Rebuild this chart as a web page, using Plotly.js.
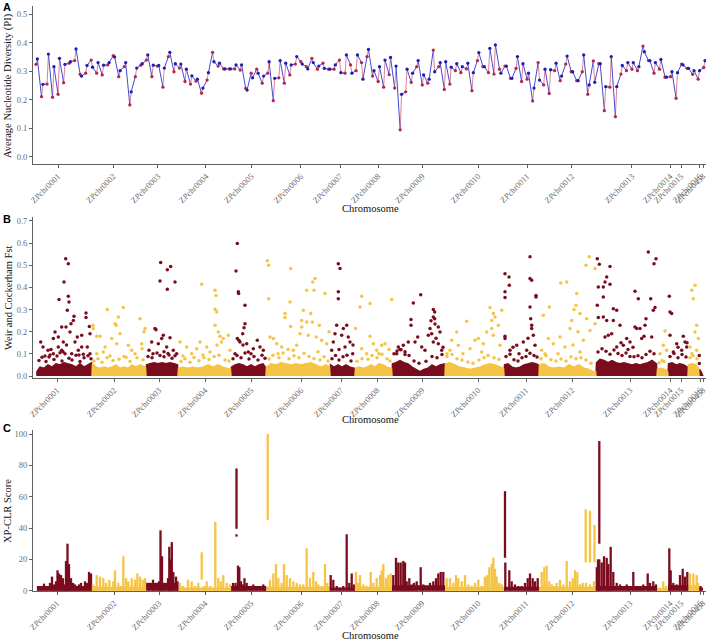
<!DOCTYPE html>
<html><head><meta charset="utf-8">
<script src="https://cdn.plot.ly/plotly-3.0.1.min.js"></script>
<style>html,body{margin:0;padding:0;background:#fff}#chart{width:709px;height:641px}</style>
</head><body><div id="chart"></div>
<script>
// ---------------- chromosomes ----------------
const chrNames = ["ZPchr0001","ZPchr0002","ZPchr0003","ZPchr0004","ZPchr0005","ZPchr0006","ZPchr0007","ZPchr0008","ZPchr0009","ZPchr0010","ZPchr0011","ZPchr0012","ZPchr0013","ZPchr0014","ZPchr0015","ZPchr0016","ZPchr0458"];
const chrStart = [4,59,113,145,198,233,297,322,359,412,471,506,563,624,635,655,666];
const chrEnd   = [59,113,145,198,233,297,322,359,412,471,506,563,624,635,655,666,670];
const chrTick  = [24,81,126,172,218,268,308,344,389,445,493,539,597,637,648,667,670];

// ---------------- panel A: nucleotide diversity windows ----------------
const piTick = [4.0,14.0,22.1,30.8,39.0,48.0,55.1,62.0,70.0,80.1,89.0,97.1,108.0,114.9,116.9,120.3,120.9];
const piRed = [0.324,0.211,0.255,0.209,0.219,0.260,0.328,0.337,0.289,0.293,
0.339,0.293,0.287,0.322,0.354,0.281,0.316,0.182,0.281,0.321,
0.339,0.281,0.318,0.244,0.351,0.298,0.311,0.264,0.255,0.265,
0.223,0.269,0.366,0.318,0.308,0.308,0.308,0.304,0.240,0.293,
0.307,0.258,0.293,0.197,0.277,0.258,0.287,0.325,0.333,0.316,
0.345,0.307,0.328,0.307,0.307,0.339,0.293,0.322,0.302,0.330,
0.351,0.283,0.264,0.244,0.288,0.241,0.095,0.228,0.261,0.316,
0.252,0.258,0.374,0.316,0.236,0.255,0.302,0.295,0.308,0.232,
0.337,0.316,0.295,0.290,0.307,0.318,0.275,0.310,0.264,0.272,
0.196,0.330,0.252,0.222,0.302,0.267,0.325,0.298,0.267,0.298,
0.219,0.336,0.326,0.162,0.244,0.141,0.290,0.302,0.307,0.302,
0.388,0.337,0.293,0.307,0.279,0.281,0.205,0.325,0.310,0.289,
0.272,0.313];
const piBlue = [0.343,0.254,0.360,0.316,0.345,0.324,0.333,0.378,0.283,0.320,
0.314,0.330,0.321,0.330,0.350,0.302,0.330,0.228,0.311,0.326,
0.357,0.321,0.320,0.311,0.366,0.326,0.325,0.307,0.284,0.272,
0.241,0.295,0.333,0.328,0.308,0.308,0.322,0.322,0.234,0.277,
0.293,0.283,0.333,0.275,0.337,0.328,0.322,0.351,0.325,0.308,
0.330,0.318,0.310,0.307,0.322,0.295,0.357,0.293,0.357,0.272,
0.376,0.302,0.316,0.339,0.348,0.318,0.219,0.307,0.293,0.337,
0.287,0.272,0.298,0.330,0.333,0.314,0.326,0.316,0.328,0.295,
0.365,0.316,0.380,0.392,0.293,0.318,0.275,0.351,0.326,0.293,
0.241,0.269,0.307,0.305,0.328,0.283,0.353,0.298,0.267,0.357,
0.252,0.261,0.326,0.246,0.351,0.246,0.320,0.330,0.330,0.316,
0.368,0.337,0.330,0.341,0.279,0.298,0.295,0.322,0.310,0.302,
0.302,0.337];

// ---------------- panel B: Fst ----------------
const fstPos = [
7.7,10,15,16,22,20.3,25.3,26,28.7,30.3,31,32.7,35.3,35.3,36,34.3,33,37,38,41,40.3,42,44.3,48.7,48.7,53,53,56.3,57,54.3,25.3,28.7,45.3,38.7,20.3,50.3,57,12,18,30,33.5,46,
6,9,13,17,21,24,27,29,32,36,39,43,47,51,55,58,
74.3,90.3,85.3,82,83,60.3,60,63.7,67,83.7,107,108.7,109,87,78.7,72,95.3,98.7,70.3,63.7,102,111,112,77,93,
61,65,69,74,80,86,91,97,104,110,
127.7,137.7,134.3,127,134.3,142,122,123,130.3,128.7,137,118.7,125.3,133.7,140.3,116,143.7,120,131,136,
115,119,124,127,131,135,139,142,
168.7,182,183,182,183.7,182,185.3,187,190.3,188.5,195.3,147,153.7,163.7,167,173.7,158.7,177,197,184,150,170,
148,152,157,161,166,171,176,181,186,192,196,
204.3,203,205.3,205.6,212,212,211,209.7,204.3,207,213.7,224.3,220.3,230.3,202,215.3,227,206,210,218,
200,204,208,212,216,221,225,229,232,
234.3,235.7,235.7,237,240.3,257.7,257,252,252,257.7,268.7,268.7,270.3,273.7,279.7,282,277.7,279.3,273.7,281,283.3,286.3,292,288.7,243.7,248.7,263.7,267,275.3,260.3,293.7,296,245,255,285,
236,240,246,250,256,261,266,271,276,281,287,291,295,
305.3,307,305.3,305.3,303.7,313.7,310.3,302,308.7,300.3,315.3,317,312,319.7,298.7,306,320,
299,302.5,306,310,314,318,
328.7,327,337,358.7,322.5,337,340.3,348.7,352,328.7,343.7,333.7,356,346,
324,329,335,339,344,349,354,357,
387.7,380.3,378,378,400.3,401.7,400.3,401.7,397,405.3,407,398.7,395.3,400.3,384.7,375.3,388.7,365.3,370.3,382,405.3,408.7,392,363.7,367,372,410,403,398,402,
361,364,368,372,376,381,386,393,399,404,409,
457,460.3,462,458.7,468.7,433.7,423.7,418.7,442,445.3,453.7,458.7,460.3,465.3,450.3,425.3,417,437,448.7,467,414,430,
414,419,424,429,435,440,446,451,455,461,466,
497,472,476,476.3,472,472,497,498.7,497,503,503,497.7,498.7,498.7,500.3,472,472,490.3,483.7,493.7,477,502,486,495,480,
473,477,481,485,489,493,497,501,504,
556.3,553,527.7,533.7,543.7,543,541,510.3,516.3,547,538.7,553.7,562,557,562,527,515.3,537,550.3,520.3,532,547,508.7,525,545,540,512,
508,513,518,523,528,533,538,543,548,553,558,
564.3,566.3,577,573.7,572,570.3,565.3,564.3,577,570.3,565.3,580.3,583.7,570.3,573.7,575.3,572,578.7,580.3,587,602,605.3,615.3,621,623,617.7,622,620.3,613,612,602,597,603.7,608.7,618.7,590.3,583.7,593.7,607,611,595,588,600,
565,569,573,577,581,585,589,593,597,601,605,609,613,617,621,
632,630.3,633.7,627,629,626,631,
636.3,637,638.7,637,643.7,650.3,652,653.7,648.7,640.3,645,654,637,641,645,649,653,
658.7,662,660.3,663.7,662,665.3,657,663.7,659,657,660,664,
666.3,666.3];
const fstVal = [
0.154,0.131,0.116,0.086,0.199,0.169,0.176,0.345,0.221,0.154,0.425,0.53,0.507,0.36,0.334,0.297,0.221,0.199,0.236,0.27,0.251,0.154,0.176,0.184,0.131,0.285,0.264,0.224,0.191,0.131,0.131,0.116,0.116,0.1,0.1,0.098,0.1,0.09,0.12,0.11,0.14,0.095,
0.07,0.085,0.065,0.095,0.075,0.09,0.105,0.068,0.1,0.08,0.072,0.094,0.066,0.083,0.092,0.078,
0.3,0.309,0.267,0.236,0.229,0.214,0.229,0.179,0.179,0.146,0.259,0.146,0.123,0.191,0.169,0.131,0.139,0.116,0.108,0.1,0.1,0.2,0.215,0.09,0.085,
0.068,0.078,0.062,0.083,0.07,0.076,0.088,0.066,0.082,0.073,
0.512,0.495,0.48,0.429,0.392,0.425,0.214,0.209,0.184,0.169,0.173,0.154,0.146,0.131,0.116,0.116,0.1,0.1,0.11,0.095,
0.088,0.082,0.104,0.093,0.087,0.102,0.08,0.092,
0.414,0.387,0.364,0.301,0.289,0.229,0.199,0.179,0.169,0.154,0.184,0.154,0.131,0.123,0.154,0.131,0.1,0.108,0.116,0.14,0.09,0.095,
0.066,0.078,0.062,0.084,0.069,0.083,0.074,0.088,0.094,0.072,0.068,
0.598,0.474,0.38,0.372,0.319,0.236,0.218,0.191,0.169,0.154,0.146,0.161,0.123,0.116,0.1,0.108,0.131,0.16,0.14,0.1,
0.078,0.093,0.083,0.104,0.077,0.088,0.072,0.094,0.08,
0.52,0.5,0.349,0.176,0.169,0.485,0.334,0.282,0.264,0.224,0.251,0.221,0.297,0.244,0.425,0.44,0.282,0.244,0.387,0.387,0.176,0.229,0.372,0.161,0.146,0.131,0.139,0.191,0.184,0.116,0.146,0.2,0.1,0.12,0.11,
0.077,0.094,0.082,0.104,0.078,0.092,0.083,0.103,0.088,0.079,0.072,0.087,0.068,
0.507,0.485,0.38,0.349,0.229,0.229,0.214,0.191,0.184,0.154,0.176,0.154,0.131,0.1,0.116,0.12,0.14,
0.078,0.093,0.072,0.087,0.094,0.068,
0.36,0.312,0.327,0.345,0.214,0.179,0.146,0.139,0.146,0.123,0.116,0.1,0.12,0.1,
0.067,0.078,0.076,0.093,0.083,0.098,0.078,0.068,
0.367,0.33,0.255,0.229,0.3,0.289,0.267,0.259,0.214,0.221,0.199,0.191,0.184,0.154,0.176,0.154,0.131,0.131,0.139,0.154,0.146,0.116,0.116,0.1,0.12,0.11,0.13,0.17,0.25,0.235,
0.1,0.113,0.118,0.097,0.093,0.068,0.058,0.067,0.088,0.083,0.097,
0.309,0.282,0.267,0.251,0.297,0.247,0.199,0.161,0.161,0.169,0.199,0.214,0.184,0.229,0.146,0.139,0.116,0.123,0.108,0.139,0.1,0.1,
0.088,0.097,0.078,0.072,0.063,0.058,0.072,0.083,0.093,0.082,0.076,
0.538,0.462,0.447,0.41,0.38,0.354,0.44,0.432,0.312,0.364,0.357,0.259,0.229,0.214,0.184,0.179,0.169,0.154,0.139,0.116,0.116,0.139,0.1,0.17,0.13,
0.088,0.098,0.073,0.068,0.082,0.088,0.103,0.093,0.086,
0.538,0.5,0.42,0.425,0.372,0.319,0.3,0.274,0.312,0.282,0.251,0.259,0.485,0.206,0.236,0.176,0.169,0.214,0.161,0.146,0.131,0.108,0.116,0.1,0.2,0.14,0.1,
0.078,0.092,0.073,0.068,0.077,0.068,0.087,0.078,0.083,0.072,0.058,
0.53,0.505,0.495,0.447,0.425,0.402,0.402,0.319,0.414,0.357,0.264,0.304,0.297,0.267,0.251,0.184,0.176,0.191,0.251,0.229,0.383,0.349,0.56,0.507,0.53,0.349,0.309,0.297,0.259,0.229,0.221,0.154,0.214,0.169,0.176,0.139,0.131,0.169,0.214,0.18,0.12,0.15,0.13,
0.108,0.123,0.112,0.098,0.117,0.102,0.093,0.104,0.088,0.087,0.092,0.083,0.097,0.112,0.1,
0.203,0.139,0.116,0.1,0.07,0.06,0.065,
0.36,0.289,0.282,0.184,0.146,0.179,0.154,0.131,0.116,0.108,0.13,0.15,0.088,0.102,0.083,0.097,0.086,
0.387,0.41,0.349,0.229,0.199,0.169,0.131,0.116,0.1,0.083,0.092,0.078,
0.093,0.056];
// top of the dense low-Fst band of SNPs
const fstBandPos = [4,7,11,15,19,23,27,31,35,39,43,47,51,55,58.5,
59.5,63,67,71,75,79,83,87,91,95,99,103,107,112.5,
113.5,117,121,125,129,133,137,141,144.5,
145.5,150,155,160,165,170,175,180,185,190,195,197.5,
198.5,202,206,210,214,218,222,226,230,232.5,
233.5,238,243,248,253,258,263,268,273,278,283,288,293,296.5,
297.5,301,305,309,313,317,321.5,
322.5,326,330,334,338,342,346,350,354,358.5,
359.5,363,367,371,375,379,383,387,391,395,399,403,407,411.5,
412.5,417,422,427,432,437,442,447,452,457,462,467,470.5,
471.5,475,479,483,487,491,495,499,503,505.5,
506.5,511,516,521,526,531,536,541,546,551,556,560,562.5,
563.5,567,571,575,579,583,587,591,595,599,603,607,611,615,619,623.5,
624.5,628,632,634.5,
635.5,639,643,647,651,654.5,
655.5,659,663,665.5,
666.5,668];
const fstBandTop = [0.02,0.04,0.035,0.05,0.04,0.055,0.05,0.06,0.055,0.05,0.04,0.055,0.04,0.05,0.06,
0.055,0.04,0.035,0.04,0.035,0.04,0.05,0.035,0.04,0.035,0.05,0.04,0.05,0.04,
0.05,0.055,0.06,0.055,0.06,0.055,0.06,0.055,0.05,
0.035,0.04,0.035,0.04,0.035,0.04,0.05,0.04,0.05,0.04,0.035,0.03,
0.04,0.05,0.055,0.05,0.04,0.05,0.04,0.05,0.055,0.04,
0.04,0.055,0.05,0.06,0.055,0.05,0.055,0.05,0.055,0.06,0.05,0.04,0.05,0.04,
0.05,0.04,0.05,0.04,0.05,0.04,0.035,
0.035,0.04,0.035,0.04,0.05,0.04,0.055,0.05,0.04,0.035,
0.055,0.06,0.07,0.06,0.055,0.04,0.03,0.02,0.03,0.035,0.05,0.04,0.05,0.055,
0.055,0.06,0.05,0.04,0.035,0.03,0.035,0.04,0.05,0.055,0.05,0.04,0.035,
0.05,0.055,0.04,0.035,0.04,0.05,0.055,0.06,0.055,0.05,
0.05,0.055,0.04,0.035,0.04,0.035,0.05,0.04,0.05,0.035,0.03,0.02,0.02,
0.06,0.075,0.07,0.06,0.07,0.06,0.055,0.06,0.055,0.05,0.055,0.05,0.055,0.06,0.07,0.055,
0.03,0.035,0.03,0.02,
0.055,0.06,0.05,0.055,0.05,0.04,
0.05,0.055,0.05,0.035,
0.03,0.02];

// ---------------- panel C: XP-CLR ----------------
const xclrPos = [
5,8,11,14,17,19,21,23,24.5,26,28,30,31.5,33,34.5,36,38,40,42,44,46,48,50,52,54,56,58,
60,61.5,63.7,67,70.3,73,76.3,80.3,82,85.3,88,90.3,93,95.3,98.7,102,104.3,107,109.7,112,
116,120,123,126,127.5,129,132,135,136.3,137.5,138.8,140.3,143,144.5,
147,150,155,158.7,162,165.3,168.7,171,173.7,177,180.3,182.3,185.3,187.7,190.3,193.7,197,
200,202.5,203.5,203.5,205,206.3,208,210,211.5,213.7,217,220.3,223.7,227,230.3,232,
234.7,237,240.3,243,245.3,248.7,251,253.7,257,260.3,263.7,267,270.3,273.7,277,280.3,283,285.3,288.7,292,294.3,
297.7,300.3,303.7,307,310.3,313.7,316.3,318.7,321,
323,325,327,330.3,333.7,337.7,340.3,343.7,347,348.7,350.3,353,355.3,357.7,
360.3,363,365.3,367.7,370.3,372,373.7,376.3,378.7,381,383.7,387.7,390.3,393.7,397,400.3,403,405.3,407.7,410.3,
413.7,417,420.3,423,425.3,428.7,432,435.3,438.7,442,445.3,448.7,452,454.3,456.3,458.7,460.3,462,463.7,466.3,468.7,
472,472.3,476.3,478.7,482,485.3,488.7,492,494.7,497,499.7,502,504.7,
508.7,511.3,513.7,516.3,518.7,521,523.7,527,530.3,533.7,537,539.7,542,544.3,547,549.7,552.7,553,557,557,561.5,561,
563.8,565,566.3,566.3,568.7,571,573.7,575.3,577.7,580.3,583.7,587,590.3,593.7,596.3,600.3,603.7,607,610.3,614.7,617,620.3,623,
627,630.3,633,
636.3,637.7,640.3,643.7,647,649.7,652,654.3,
657,660.3,663.7,665,
667.5];
const xclrTop = [
2.5,1.5,4.5,2,5,9,4,6,13,11,10,8,4,19,30,17,8,5,4,2,4,5,3,6,5,12,11,
4,3,10,9,8,5,7,6,13,5,3,22,8,6,8,7,11,9,7,8,
5,7,5,6,38.5,22,5,8,28,20,31,12,9,6,
5,3,7,6,3,5,24.5,3,6,3,2,44,8,6,10,5,4,
5,5,78,36,16,15,6,4,8,5,3,4,2,3,4,3,
100,7,11,17,8,5,17,10,8,6,5,4,4,27,8,12,6,4,3,17,5,
10,7,3,2,3,36,5,11,4,
12,5,10,4,3,12,5,8,10,13,17,8,10,11,
10,21,18,18,19,18,6,8,4,5,6,15,4,3,5,6,8,11,12,12,
8,8,5,10,8,6,10,4,3,5,7,3,9,10,15,17,21,14,9,5,4,
63.5,18,13,6,4,3,3,5,8,11,8,6,8,
12,15,16,6,4,3,5,7,4,19,6,8,13,12,4,5,52,5,51,4,42,6,
15,20,95.5,20,18,22,21,17,28,12,5,4,3,4,3,12,3,2,4,11,5,6,4,
2,6,3,
27,13,5,4,10,14,9,12,
11,11,10,5,
3];
const xclrBase = [
0,0,0,0,0,0,0,0,0,0,0,0,0,0,0,0,0,0,0,0,0,0,0,0,0,0,0,
0,0,0,0,0,0,0,0,0,0,0,0,0,0,0,0,0,0,0,0,
0,0,0,0,0,0,0,0,0,0,0,0,0,0,
0,0,0,0,0,0,7,0,0,0,0,0,0,0,0,0,0,
0,0,39.5,34.5,0,0,0,0,0,0,0,0,0,0,0,0,
45,0,0,0,0,0,0,0,0,0,0,0,0,0,0,0,0,0,0,0,0,
0,0,0,0,0,0,0,0,0,
0,0,0,0,0,0,0,0,0,0,0,0,0,0,
0,0,0,0,0,0,0,0,0,0,0,0,0,0,0,0,0,0,0,0,
0,0,0,0,0,0,0,0,0,0,0,0,0,0,0,0,0,0,0,0,0,
21,0,0,0,0,0,0,0,0,0,0,0,0,
0,0,0,0,0,0,0,0,0,0,0,0,0,0,0,0,18,0,18,0,18,0,
0,0,30,0,0,0,0,0,0,0,0,0,0,0,0,0,0,0,0,0,0,0,0,
0,0,0,
0,0,0,0,0,0,0,0,
0,0,0,0,
0];
const xclrGround = [3,2.5,5,2,3,2.5,2,2.5,3.5,2.5,2.5,2.5,3,1.5,3.5,3.5,2];

// ---------------- drawing ----------------
const RED = '#7a0c1e', YEL = '#f6c445';
const chrColor = c => (c % 2 === 0 ? RED : YEL);
const chrOf = p => { for (let c = 0; c < chrStart.length; c++) { if (p >= chrStart[c] && p < chrEnd[c]) return c; } return chrStart.length - 1; };

const traces = [];
// Panel A
const d = 0.25;
const redSegX = [], redSegY = [], blueSegX = [], blueSegY = [];
piRed.forEach((r, i) => {
  redSegX.push(i, i + d, null); redSegY.push(r, piBlue[i], null);
  if (i < piRed.length - 1) { blueSegX.push(i + d, i + 1, null); blueSegY.push(piBlue[i], piRed[i + 1], null); }
});
traces.push({type:'scatter', mode:'lines', x:redSegX, y:redSegY, xaxis:'x', yaxis:'y', line:{color:'#d9829b', width:1}, connectgaps:false, hoverinfo:'skip'});
traces.push({type:'scatter', mode:'lines', x:blueSegX, y:blueSegY, xaxis:'x', yaxis:'y', line:{color:'#4747d4', width:1}, connectgaps:false, hoverinfo:'skip'});
traces.push({type:'scatter', mode:'markers', x:piRed.map((_, i) => i), y:piRed, xaxis:'x', yaxis:'y', marker:{color:'#b5284c', size:3.3}, hoverinfo:'skip'});
traces.push({type:'scatter', mode:'markers', x:piBlue.map((_, i) => i + d), y:piBlue, xaxis:'x', yaxis:'y', marker:{color:'#1e1eb0', size:3.3}, hoverinfo:'skip'});

// Panel B band polygons + points
[0, 1].forEach(parity => {
  const px = [], py = [];
  chrStart.forEach((s, c) => {
    if (c % 2 !== parity) return;
    px.push(s); py.push(0);
    fstBandPos.forEach((p, j) => { if (p >= s && p <= chrEnd[c]) { px.push(p); py.push(fstBandTop[j]); } });
    px.push(chrEnd[c]); py.push(0); px.push(null); py.push(null);
  });
  const col = parity === 0 ? RED : YEL;
  traces.push({type:'scatter', mode:'lines', x:px, y:py, xaxis:'x2', yaxis:'y2', fill:'toself', fillcolor:col, line:{color:col, width:1.5}, hoverinfo:'skip'});
});
traces.push({type:'scatter', mode:'markers', x:fstPos, y:fstVal, xaxis:'x2', yaxis:'y2',
  marker:{size:3.5, color:fstPos.map(p => chrColor(chrOf(p)))}, hoverinfo:'skip'});

// Panel C ground + columns
traces.push({type:'bar', x:chrStart.map((s, c) => (s + chrEnd[c]) / 2), y:xclrGround, width:chrStart.map((s, c) => chrEnd[c] - s),
  xaxis:'x3', yaxis:'y3', marker:{color:chrStart.map((s, c) => chrColor(c)), line:{width:0}}, hoverinfo:'skip'});
traces.push({type:'bar', x:xclrPos, y:xclrTop.map((t, i) => t - xclrBase[i]), base:xclrBase, width:2.3,
  xaxis:'x3', yaxis:'y3', marker:{color:xclrPos.map(p => chrColor(chrOf(p))), line:{width:0}}, hoverinfo:'skip'});

const W = 709, H = 641;
const serif = 'Liberation Serif, Times New Roman, serif';
const sans = 'Liberation Sans, Arial, sans-serif';
const tickFont = {family:serif, size:8.5, color:'#6b6b6b'};
const xBase = {domain:[33/W, 706/W], showgrid:false, zeroline:false, showline:true, linecolor:'#606060', linewidth:1,
  ticks:'outside', ticklen:3, tickcolor:'#606060', tickangle:-45, tickfont:tickFont, tickmode:'array', ticktext:chrNames};
const yBase = {showgrid:false, zeroline:false, showline:true, linecolor:'#606060', linewidth:1,
  ticks:'outside', ticklen:3, tickcolor:'#606060', tickfont:tickFont, tickmode:'array'};
const dom = (top, bot) => [1 - bot / H, 1 - top / H];

const layout = {
  width:W, height:H, margin:{l:0, r:0, t:0, b:0}, paper_bgcolor:'#fff', plot_bgcolor:'#fff',
  showlegend:false, hovermode:false, barmode:'overlay',
  xaxis: Object.assign({}, xBase, {anchor:'y', range:[-0.544, 121.42], tickvals:piTick}),
  yaxis: Object.assign({}, yBase, {anchor:'x', domain:dom(6, 164), range:[-0.0245, 0.528], tickvals:[0,0.1,0.2,0.3,0.4,0.5], ticktext:['0.0','0.1','0.2','0.3','0.4','0.5']}),
  xaxis2: Object.assign({}, xBase, {anchor:'y2', range:[0, 673], tickvals:chrTick}),
  yaxis2: Object.assign({}, yBase, {anchor:'x2', domain:dom(217, 378), range:[-0.009, 0.718], tickvals:[0,0.1,0.2,0.3,0.4,0.5,0.6,0.7], ticktext:['0.0','0.1','0.2','0.3','0.4','0.5','0.6','0.7']}),
  xaxis3: Object.assign({}, xBase, {anchor:'y3', range:[0, 673], tickvals:chrTick}),
  yaxis3: Object.assign({}, yBase, {anchor:'x3', domain:dom(430, 591), range:[-0.19, 102.55], tickvals:[0,20,40,60,80,100], ticktext:['0','20','40','60','80','100']}),
  annotations: []
};
const ann = (text, xpx, ypx, opts) => layout.annotations.push(Object.assign({text:text, xref:'paper', yref:'paper', x:xpx / W, y:1 - ypx / H,
  showarrow:false, xanchor:'center', yanchor:'middle', font:{family:serif, size:10.5, color:'#111'}}, opts || {}));
const letterFont = {family:sans, size:11, color:'#000'};
ann('<b>A</b>', 7, 7, {font:letterFont});
ann('<b>B</b>', 7, 219, {font:letterFont});
ann('<b>C</b>', 7, 428, {font:letterFont});
ann('Average Nucleotide Diversity (PI)', 8, 86, {textangle:-90});
ann('Weir and Cockerham Fst', 8, 298, {textangle:-90});
ann('XP-CLR Score', 8, 511, {textangle:-90});
ann('Chromosome', 370, 209);
ann('Chromosome', 370, 419);
ann('Chromosome', 370, 635);

Plotly.newPlot('chart', traces, layout, {staticPlot:true, displayModeBar:false});
</script>
</body></html>
